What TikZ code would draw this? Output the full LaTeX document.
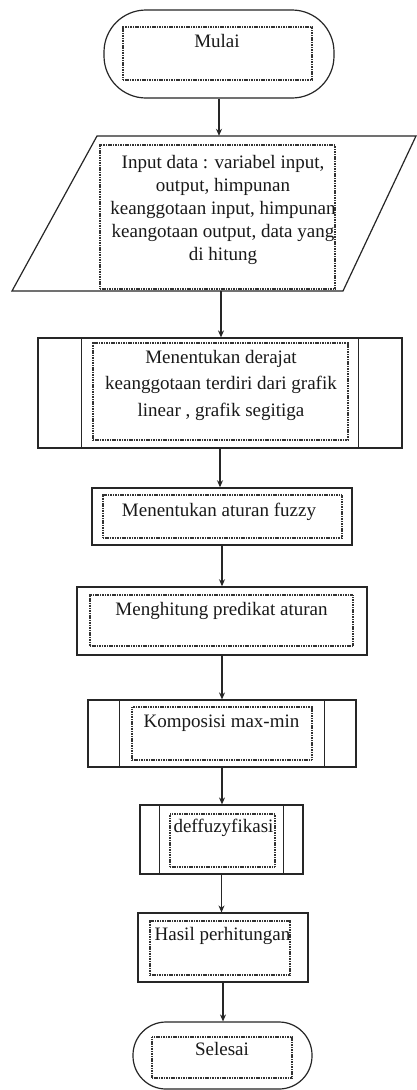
\documentclass[tikz,border=0pt]{standalone}
\usepackage{fontspec}
\setmainfont{Liberation Serif}
\usetikzlibrary{arrows.meta,calc}
\begin{document}
\begin{tikzpicture}[x=1pt,y=-1pt,
  outer/.style={draw=black!85, line width=1.2pt, inner sep=0pt},
  inbox/.style={draw=black!80, line width=1.1pt, dash pattern=on 1.1pt off 0.6pt, inner sep=0pt},
  lbl/.style={anchor=base, inner sep=0pt, align=center, text=black!90, font=\fontsize{19}{23}\selectfont},
  arr/.style={draw=black!85, line width=1.1pt, -{Stealth[length=7pt,width=6pt]}}]
\fill[white] (0,0) rectangle (417,1090);
\useasboundingbox (0,0) rectangle (417,1090);

% Start terminator
\node[outer, rounded corners=42pt, minimum width=230pt, minimum height=88pt] (start) at (219,54) {};
\node[inbox, minimum width=189pt, minimum height=53pt] (startin) at (217.5,53.5) {};
\node[lbl] (starttx) at (217,47) {Mulai};

% Input parallelogram
\node[minimum width=240pt, minimum height=155pt, inner sep=0pt] (input) at (221,213.5) {};
\draw[outer] (97,136) -- (416,136) -- (343,291) -- (12,291) -- cycle;
\node[inbox, minimum width=235pt, minimum height=144pt] (inputin) at (217.5,217) {};
\node[lbl, anchor=north] (inputtx) at (223,155) {Input data : variabel input,\\ output, himpunan\\ keanggotaan input, himpunan\\ keangotaan output, data yang\\ di hitung};

% Box 1 (predefined process)
\node[outer, minimum width=364pt, minimum height=110pt] (b1) at (220,393) {};
\draw[outer] ($(b1.north west)+(44,0)$) -- ($(b1.south west)+(44,0)$)
             ($(b1.north east)+(-44,0)$) -- ($(b1.south east)+(-44,0)$);
\node[inbox, minimum width=255pt, minimum height=97pt] (b1in) at (220.5,391.5) {};
\node[lbl, anchor=north, font=\fontsize{19}{26.5}\selectfont] (b1tx) at (221,350) {Menentukan derajat\\ keanggotaan terdiri dari grafik\\ linear , grafik segitiga};

% Box 2
\node[outer, line width=1.5pt, minimum width=260pt, minimum height=57pt] (b2) at (222,516.5) {};
\node[inbox, minimum width=239pt, minimum height=43pt] (b2in) at (222.5,516.5) {};
\node[lbl] (b2tx) at (219,516) {Menentukan aturan fuzzy};

% Box 3
\node[outer, line width=1.5pt, minimum width=290pt, minimum height=68pt] (b3) at (222,621) {};
\node[inbox, minimum width=263pt, minimum height=51pt] (b3in) at (221.5,620.5) {};
\node[lbl] (b3tx) at (221.5,615) {Menghitung predikat aturan};

% Box 4 (predefined process)
\node[outer, minimum width=268pt, minimum height=67pt] (b4) at (222,733.5) {};
\draw[outer] ($(b4.north west)+(32,0)$) -- ($(b4.south west)+(32,0)$)
             ($(b4.north east)+(-32,0)$) -- ($(b4.south east)+(-32,0)$);
\node[inbox, minimum width=180pt, minimum height=53pt] (b4in) at (222,733.5) {};
\node[lbl] (b4tx) at (221.5,727) {Komposisi max-min};

% Box 5 (predefined process)
\node[outer, minimum width=163pt, minimum height=69pt] (b5) at (221.5,839.5) {};
\draw[outer] ($(b5.north west)+(20,0)$) -- ($(b5.south west)+(20,0)$)
             ($(b5.north east)+(-20,0)$) -- ($(b5.south east)+(-20,0)$);
\node[inbox, minimum width=105pt, minimum height=53pt] (b5in) at (222.5,840.5) {};
\node[lbl] (b5tx) at (223.5,832) {deffuzyfikasi};

% Box 6
\node[outer, minimum width=170pt, minimum height=69pt] (b6) at (223,947.5) {};
\node[inbox, minimum width=140pt, minimum height=54pt] (b6in) at (220,948) {};
\node[lbl] (b6tx) at (222.5,940) {Hasil perhitungan};

% End terminator
\node[outer, rounded corners=33pt, minimum width=179pt, minimum height=67pt] (end) at (222.5,1055.5) {};
\node[inbox, minimum width=140pt, minimum height=41pt] (endin) at (222,1057.5) {};
\node[lbl] (endtx) at (222,1055) {Selesai};

% Connectors
\draw[arr] (start.south) -- (start.south |- input.north);
\draw[arr] (input.south) -- (input.south |- b1.north);
\draw[arr] (b1.south) -- (b1.south |- b2.north);
\draw[arr] (b2.south) -- (b2.south |- b3.north);
\draw[arr] (b3.south) -- (b3.south |- b4.north);
\draw[arr] (b4.south) -- (b4.south |- b5.north);
\draw[arr] (b5.south) -- (b5.south |- b6.north);
\draw[arr] (b6.south) -- (b6.south |- end.north);
\end{tikzpicture}
\end{document}
